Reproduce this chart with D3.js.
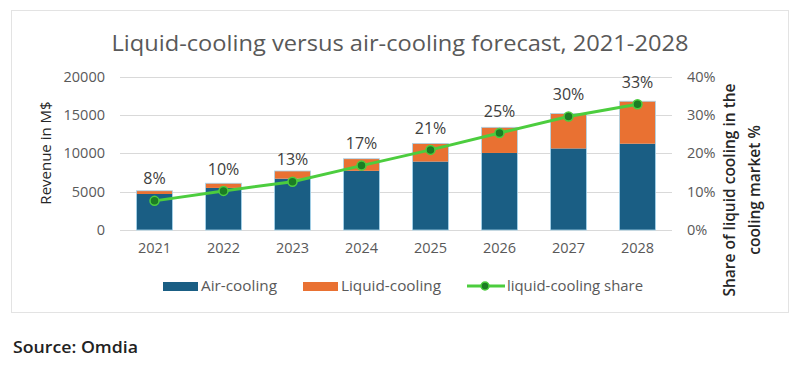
<!DOCTYPE html>
<html>
<head>
<meta charset="utf-8">
<script src="https://cdn.jsdelivr.net/npm/d3@7"></script>
<style>
  body { margin: 0; background: #fff; }
  text { font-family: "Open Sans", "Noto Sans", sans-serif; }
</style>
</head>
<body>
<div id="chart"></div>
<script>
// chart data
var years = ["2021", "2022", "2023", "2024", "2025", "2026", "2027", "2028"];
var airCooling = [4700, 5490, 6700, 7720, 8930, 10050, 10640, 11260];
var liquidCooling = [420, 610, 1000, 1580, 2370, 3350, 4560, 5540];
var liquidShare = [0.076, 0.102, 0.126, 0.168, 0.209, 0.253, 0.296, 0.328];
var revenueTicks = [0, 5000, 10000, 15000, 20000];
var shareTicks = [0, 0.1, 0.2, 0.3, 0.4];

var width = 799, height = 366;
var svg = d3.select("#chart").append("svg")
  .attr("width", width)
  .attr("height", height);

// frame
svg.append("rect")
  .attr("x", 11.5).attr("y", 10.5)
  .attr("width", 777).attr("height", 302)
  .attr("fill", "#fff")
  .attr("stroke", "#e3e3e3");

var plot = { left: 120, right: 672, top: 76.7, bottom: 230 };

var x = d3.scaleBand()
  .domain(years)
  .range([plot.left, plot.right])
  .paddingInner(0.478)
  .paddingOuter(0.239);

var yLeft = d3.scaleLinear().domain([0, 20000]).range([plot.bottom, plot.top]);
var yRight = d3.scaleLinear().domain([0, 0.4]).range([plot.bottom, plot.top]);

// gridlines
svg.append("g")
  .selectAll("line")
  .data(revenueTicks)
  .enter()
  .append("line")
  .attr("x1", plot.left).attr("x2", plot.right)
  .attr("y1", d => Math.round(yLeft(d)) + 0.5)
  .attr("y2", d => Math.round(yLeft(d)) + 0.5)
  .attr("stroke", "#d9d9d9")
  .attr("stroke-width", 1);

// left axis
var leftAxis = svg.append("g")
  .attr("transform", `translate(${plot.left}, 0)`)
  .call(d3.axisLeft(yLeft).tickValues(revenueTicks).tickSize(0).tickPadding(15).tickFormat(d3.format("d")));
leftAxis.select(".domain").remove();
leftAxis.selectAll("text")
  .attr("fill", "#595959")
  .style("font-size", "14.5px");

// right axis
var rightAxis = svg.append("g")
  .attr("transform", `translate(${plot.right}, 0)`)
  .call(d3.axisRight(yRight).tickValues(shareTicks).tickSize(0).tickPadding(15).tickFormat(d3.format(".0%")));
rightAxis.select(".domain").remove();
rightAxis.selectAll("text")
  .attr("fill", "#595959")
  .style("font-size", "14.5px");

// bottom axis
var bottomAxis = svg.append("g")
  .attr("transform", `translate(0, ${plot.bottom})`)
  .call(d3.axisBottom(x).tickSize(0).tickPadding(13));
bottomAxis.select(".domain").remove();
bottomAxis.selectAll("text")
  .attr("fill", "#595959")
  .style("font-size", "14.5px");

// stacked bars
var stackData = years.map((y, i) => ({ year: y, air: airCooling[i], liquid: liquidCooling[i] }));
var series = d3.stack().keys(["air", "liquid"])(stackData);
var colors = { air: "#1a5e84", liquid: "#e97132" };

svg.append("g")
  .selectAll("g")
  .data(series)
  .enter()
  .append("g")
  .attr("fill", d => colors[d.key])
  .selectAll("rect")
  .data(d => d)
  .enter()
  .append("rect")
  .attr("x", d => x(d.data.year))
  .attr("y", d => yLeft(d[1]))
  .attr("width", x.bandwidth())
  .attr("height", d => yLeft(d[0]) - yLeft(d[1]));

// bar outline
svg.append("g")
  .selectAll("rect")
  .data(stackData)
  .enter()
  .append("rect")
  .attr("x", d => x(d.year))
  .attr("y", d => yLeft(d.air + d.liquid))
  .attr("width", x.bandwidth())
  .attr("height", d => yLeft(0) - yLeft(d.air + d.liquid))
  .attr("fill", "none")
  .attr("stroke", "#a9d6ee")
  .attr("stroke-width", 0.8);

// share line
var cx = d => x(d) + x.bandwidth() / 2;
var line = d3.line()
  .x((d, i) => cx(years[i]))
  .y(d => yRight(d));

svg.append("path")
  .datum(liquidShare)
  .attr("d", line)
  .attr("fill", "none")
  .attr("stroke", "#4ccd3e")
  .attr("stroke-width", 3);

svg.append("g")
  .selectAll("circle")
  .data(liquidShare)
  .enter()
  .append("circle")
  .attr("cx", (d, i) => cx(years[i]))
  .attr("cy", d => yRight(d))
  .attr("r", 4.5)
  .attr("fill", "#1c7d24")
  .attr("stroke", "#4ccd3e")
  .attr("stroke-width", 1.5);

// share labels
svg.append("g")
  .selectAll("text")
  .data(liquidShare)
  .enter()
  .append("text")
  .attr("x", (d, i) => cx(years[i]))
  .attr("y", d => yRight(d) - 22)
  .attr("dy", "0.35em")
  .attr("text-anchor", "middle")
  .attr("fill", "#404040")
  .style("font-size", "16px")
  .text(d3.format(".0%"));

// title
svg.append("text")
  .attr("x", 400)
  .attr("y", 43)
  .attr("dy", "0.35em")
  .attr("text-anchor", "middle")
  .attr("fill", "#595959")
  .style("font-size", "22px")
  .attr("textLength", 577)
  .attr("lengthAdjust", "spacingAndGlyphs")
  .text("Liquid-cooling versus air-cooling forecast, 2021-2028");

// left axis title
svg.append("text")
  .attr("transform", "translate(46, 153) rotate(-90)")
  .attr("dy", "0.35em")
  .attr("text-anchor", "middle")
  .attr("fill", "#262626")
  .style("font-size", "15px")
  .text("Revenue in M$");

// right axis title
var rightTitle = svg.append("text")
  .attr("transform", "translate(742, 190) rotate(-90)")
  .attr("text-anchor", "middle")
  .attr("fill", "#262626")
  .style("font-size", "15.5px")
  .style("font-weight", "600");
rightTitle.append("tspan").attr("x", 0).attr("y", -7).text("Share of liquid cooling in the");
rightTitle.append("tspan").attr("x", 0).attr("y", 18).text("cooling market %");

// legend
var legend = svg.append("g").attr("transform", "translate(0, 286)");
legend.append("rect").attr("x", 163).attr("y", -4).attr("width", 35).attr("height", 9).attr("fill", colors.air);
legend.append("text").attr("x", 201).attr("dy", "0.35em").attr("fill", "#595959").style("font-size", "14.5px")
  .attr("textLength", 76).attr("lengthAdjust", "spacingAndGlyphs").text("Air-cooling");
legend.append("rect").attr("x", 303).attr("y", -4).attr("width", 35).attr("height", 9).attr("fill", colors.liquid);
legend.append("text").attr("x", 341).attr("dy", "0.35em").attr("fill", "#595959").style("font-size", "14.5px")
  .attr("textLength", 100).attr("lengthAdjust", "spacingAndGlyphs").text("Liquid-cooling");
legend.append("line").attr("x1", 467).attr("x2", 505).attr("y1", 0).attr("y2", 0)
  .attr("stroke", "#4ccd3e").attr("stroke-width", 3);
legend.append("circle").attr("cx", 485).attr("cy", 0).attr("r", 4)
  .attr("fill", "#1c7d24").attr("stroke", "#4ccd3e").attr("stroke-width", 1.5);
legend.append("text").attr("x", 507).attr("dy", "0.35em").attr("fill", "#595959").style("font-size", "14.5px")
  .attr("textLength", 136).attr("lengthAdjust", "spacingAndGlyphs").text("liquid-cooling share");

// source
svg.append("text")
  .attr("x", 13)
  .attr("y", 347)
  .attr("dy", "0.35em")
  .attr("fill", "#222")
  .style("font-size", "17px")
  .style("font-weight", "600")
  .attr("textLength", 125)
  .attr("lengthAdjust", "spacingAndGlyphs")
  .text("Source: Omdia");
</script>
</body>
</html>
